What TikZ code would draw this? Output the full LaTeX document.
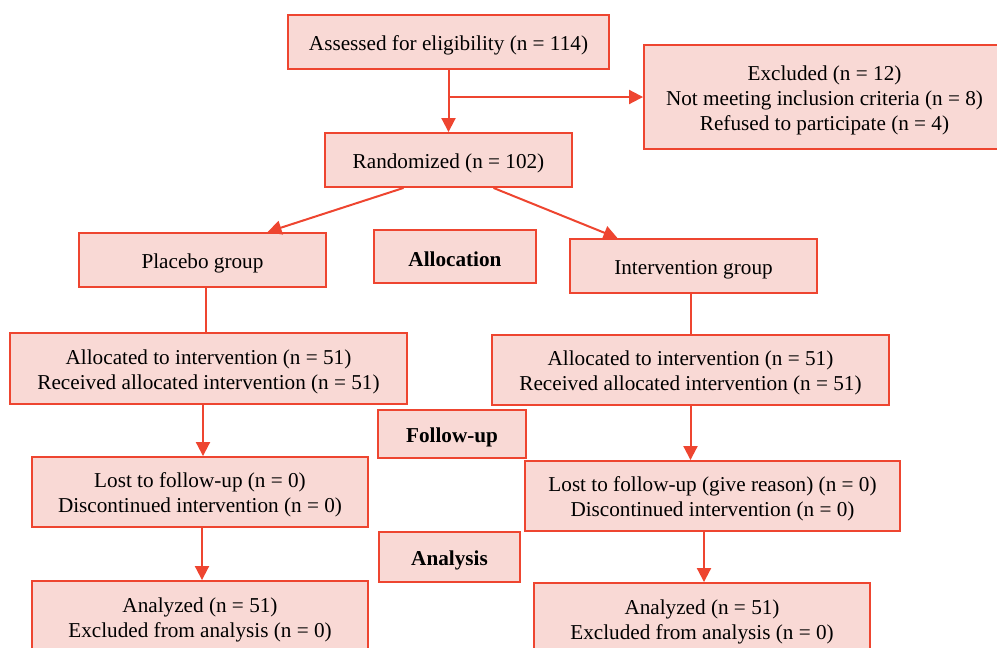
\documentclass[tikz,border=0pt]{standalone}
\usepackage{fontspec}
\setmainfont{Liberation Serif}
\usetikzlibrary{arrows.meta}
\definecolor{boxfill}{HTML}{F9D9D5}
\definecolor{boxline}{HTML}{EE4530}
\newcommand{\lowertext}{\raisebox{6pt}{\vphantom{(lfdA}}}
\tikzset{
  box/.style={draw=boxline, fill=boxfill, line width=1.9pt, inner sep=0pt, align=center,
    font=\fontsize{21.2}{25}\selectfont, text=black},
  stage/.style={box, font=\fontsize{21.2}{25}\selectfont\bfseries},
  conn/.style={draw=boxline, line width=2pt},
  arr/.style={conn, -{Triangle[length=14pt,width=14pt]}}
}
\begin{document}
\begin{tikzpicture}[x=1pt,y=-1pt]
\useasboundingbox (0,0) rectangle (997,648);
\clip (0,0) rectangle (997,648);
\node[box, minimum width=321pt, minimum height=54pt] (assess) at (448.5,42) {\lowertext Assessed for eligibility (n = 114)};
\node[box, minimum width=361pt, minimum height=104pt] (excl) at (824.5,97) {\lowertext Excluded (n = 12)\\Not meeting inclusion criteria (n = 8)\\Refused to participate (n = 4)};
\node[box, minimum width=247pt, minimum height=54pt] (rand) at (448.5,160) {\lowertext Randomized (n = 102)};
\node[box, minimum width=247pt, minimum height=54pt] (plac) at (202.5,260) {\lowertext Placebo group};
\node[stage, minimum width=162pt, minimum height=53pt] (alloc) at (455,256.5) {\lowertext Allocation};
\node[box, minimum width=247pt, minimum height=54pt] (interv) at (693.5,266) {\lowertext Intervention group};
\node[box, minimum width=397pt, minimum height=71pt] (alocL) at (208.5,368.5) {\lowertext Allocated to intervention (n = 51)\\Received allocated intervention (n = 51)};
\node[box, minimum width=397pt, minimum height=70pt] (alocR) at (690.5,370) {\lowertext Allocated to intervention (n = 51)\\Received allocated intervention (n = 51)};
\node[stage, minimum width=148pt, minimum height=48pt] (follow) at (452,434) {\lowertext Follow-up};
\node[box, minimum width=336pt, minimum height=70pt] (lostL) at (200,492) {\lowertext Lost to follow-up (n = 0)\\Discontinued intervention (n = 0)};
\node[box, minimum width=375pt, minimum height=70pt] (lostR) at (712.5,496) {\lowertext Lost to follow-up (give reason) (n = 0)\\Discontinued intervention (n = 0)};
\node[stage, minimum width=141pt, minimum height=50pt] (analysis) at (449.5,557) {\lowertext Analysis};
\node[box, minimum width=336pt, minimum height=72pt] (anL) at (200,617) {\lowertext Analyzed (n = 51)\\Excluded from analysis (n = 0)};
\node[box, minimum width=336pt, minimum height=72pt] (anR) at (702,619) {\lowertext Analyzed (n = 51)\\Excluded from analysis (n = 0)};
% connectors
\draw[arr] (assess) -- (rand);
\coordinate (br) at (448.5,97);
\draw[arr] (br) -- (excl.west);
\draw[arr] ([xshift=-45pt]rand.south) -- ([xshift=65pt]plac.north);
\draw[arr] ([xshift=45pt]rand.south) -- ([xshift=-76pt]interv.north);
\coordinate (pl) at ([xshift=3.5pt]plac.south);
\draw[conn] (pl) -- (pl |- alocL.north);
\coordinate (iv) at ([xshift=-3pt]interv.south);
\draw[conn] (iv) -- (iv |- alocR.north);
\coordinate (al) at ([xshift=-5.5pt]alocL.south);
\draw[arr] (al) -- (al |- lostL.north);
\draw[arr] (alocR.south) -- (alocR.south |- lostR.north);
\coordinate (ll) at ([xshift=2pt]lostL.south);
\draw[arr] (ll) -- (ll |- anL.north);
\coordinate (lr) at ([xshift=-8.5pt]lostR.south);
\draw[arr] (lr) -- (lr |- anR.north);
\end{tikzpicture}
\end{document}
